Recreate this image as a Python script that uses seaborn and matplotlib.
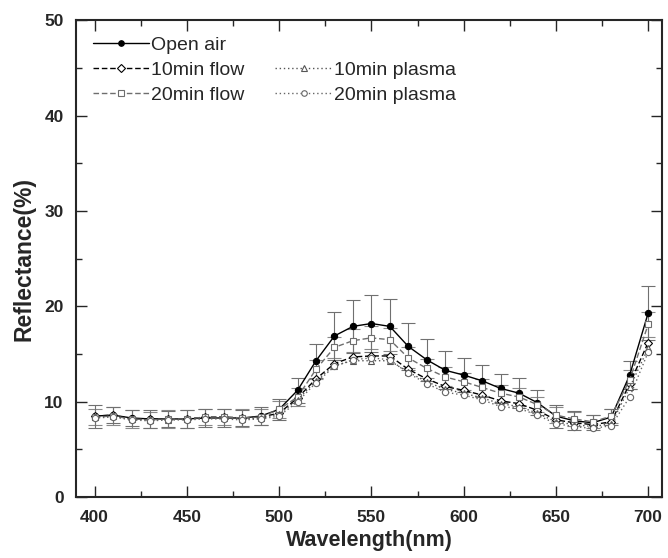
import numpy as np
import pandas as pd
import matplotlib
matplotlib.use("Agg")
import matplotlib.pyplot as plt
import seaborn as sns
from matplotlib.lines import Line2D
from matplotlib.ticker import MultipleLocator

# ── Data ──────────────────────────────────────────────────────────────────────
wavelength = list(range(400, 701, 10))

open_air = [8.5, 8.6, 8.3, 8.2, 8.2, 8.2, 8.3, 8.3, 8.3, 8.5, 9.2, 11.2, 14.3,
            16.9, 17.9, 18.2, 17.9, 15.8, 14.4, 13.3, 12.8, 12.2, 11.4, 10.9,
            9.9, 8.5, 8.0, 7.8, 8.4, 12.8, 19.3]
flow_10 = [8.5, 8.6, 8.2, 8.2, 8.2, 8.2, 8.4, 8.4, 8.3, 8.4, 8.8, 10.4, 12.4,
           14.0, 14.7, 14.8, 14.8, 13.4, 12.4, 11.6, 11.2, 10.7, 10.1, 9.8,
           9.1, 8.1, 7.8, 7.6, 7.9, 11.9, 16.2]
flow_20 = [8.4, 8.5, 8.2, 8.1, 8.2, 8.2, 8.4, 8.4, 8.3, 8.4, 9.2, 10.5, 13.4,
           15.7, 16.4, 16.7, 16.5, 14.6, 13.5, 12.6, 12.1, 11.5, 10.9, 10.5,
           9.7, 8.6, 8.2, 7.9, 8.5, 12.3, 18.1]
plasma_10 = [8.4, 8.5, 8.2, 8.1, 8.1, 8.2, 8.3, 8.3, 8.2, 8.3, 8.7, 10.2, 12.2,
             13.8, 14.3, 14.3, 14.3, 13.1, 12.1, 11.3, 10.9, 10.4, 9.8, 9.5,
             8.8, 7.9, 7.6, 7.4, 7.7, 11.5, 15.6]
plasma_20 = [8.3, 8.4, 8.1, 8.0, 8.1, 8.1, 8.2, 8.2, 8.1, 8.2, 8.5, 10.0, 12.0,
             13.7, 14.4, 14.6, 14.4, 13.0, 11.9, 11.0, 10.7, 10.2, 9.5, 9.3,
             8.6, 7.7, 7.4, 7.2, 7.5, 10.5, 15.2]

open_air_err = [1.2, 0.8, 0.8, 0.9, 0.8, 0.9, 0.9, 0.9, 0.8, 0.9, 1.1, 1.3, 1.8,
                2.5, 2.8, 3.0, 2.9, 2.5, 2.2, 2.0, 1.8, 1.7, 1.5, 1.6, 1.3,
                1.2, 1.0, 0.8, 0.8, 1.5, 2.8]
flow_20_err = [0.8, 0.9, 0.9, 0.8, 0.9, 0.9, 0.8, 0.8, 0.9, 0.8, 0.9, 0.9, 1.0,
               1.1, 1.2, 1.2, 1.2, 1.1, 1.0, 1.0, 0.9, 0.9, 0.9, 0.9, 0.8,
               0.8, 0.7, 0.7, 0.7, 1.0, 1.3]

series = [
    # label, values, color, linestyle, marker, fill
    ("Open air",     open_air,  "black",   "-",          "o", "black"),
    ("10min flow",   flow_10,   "black",   (0, (4, 2)),  "D", "white"),
    ("20min flow",   flow_20,   "#6e6e6e", (0, (4, 2)),  "s", "white"),
    ("10min plasma", plasma_10, "#555555", (0, (1, 2)),  "^", "white"),
    ("20min plasma", plasma_20, "#666666", (0, (1, 2)),  "o", "white"),
]

# ── Plot ──────────────────────────────────────────────────────────────────────
sns.set_style("ticks")
plt.rcParams["font.family"] = ["Liberation Sans", "DejaVu Sans"]

fig = plt.figure(figsize=(6.68, 5.58), dpi=100)
ax = fig.add_axes([0.114, 0.109, 0.877, 0.855])

# error bars first so markers sit on top
ax.errorbar(wavelength, flow_20, yerr=flow_20_err, fmt="none", ecolor="#8a8a8a",
            elinewidth=0.8, capsize=5, capthick=0.8, zorder=1)
ax.errorbar(wavelength, open_air, yerr=open_air_err, fmt="none", ecolor="#707070",
            elinewidth=0.8, capsize=5, capthick=0.8, zorder=1)

handles = []
for label, vals, color, ls, mk, fill in series:
    df = pd.DataFrame({"wl": wavelength, "r": vals})
    ms = 4.5 if mk != "D" else 4
    sns.lineplot(data=df, x="wl", y="r", ax=ax, color=color, linestyle=ls,
                 linewidth=1.0, marker=mk, markersize=ms,
                 markerfacecolor=fill, markeredgecolor=color,
                 markeredgewidth=0.8, zorder=3)
    handles.append(Line2D([], [], color=color, linestyle=ls, linewidth=1.0,
                          marker=mk, markersize=4, markerfacecolor=fill,
                          markeredgecolor=color, markeredgewidth=0.8, label=label))

blank = Line2D([], [], linestyle="none", label=" ")
leg_handles = [handles[0], handles[1], handles[2], blank, handles[3], handles[4]]
ax.legend(handles=leg_handles, labels=[h.get_label() for h in leg_handles],
          ncol=2, loc="upper left", bbox_to_anchor=(0.0, 1.0), frameon=False,
          fontsize=14, handlelength=2.9, handletextpad=0.1, columnspacing=1.6,
          labelspacing=0.38, borderaxespad=0.55, borderpad=0.3)

ax.set_xlim(390, 707.5)
ax.set_ylim(0, 50)
ax.xaxis.set_major_locator(MultipleLocator(50))
ax.xaxis.set_minor_locator(MultipleLocator(25))
ax.yaxis.set_major_locator(MultipleLocator(10))
ax.yaxis.set_minor_locator(MultipleLocator(5))
ax.tick_params(which="both", direction="in", top=True, right=True, width=1.0)
ax.tick_params(which="major", length=8, labelsize=12.5, pad=9)
ax.tick_params(which="minor", length=4)
for lab in ax.get_xticklabels() + ax.get_yticklabels():
    lab.set_fontweight("bold")
for sp in ax.spines.values():
    sp.set_linewidth(1.5)

ax.set_xlabel("Wavelength(nm)", fontsize=15.5, fontweight="bold", labelpad=4)
ax.set_ylabel("Reflectance(%)", fontsize=16.5, fontweight="bold", labelpad=6)

fig.savefig("out.png", dpi=100)
